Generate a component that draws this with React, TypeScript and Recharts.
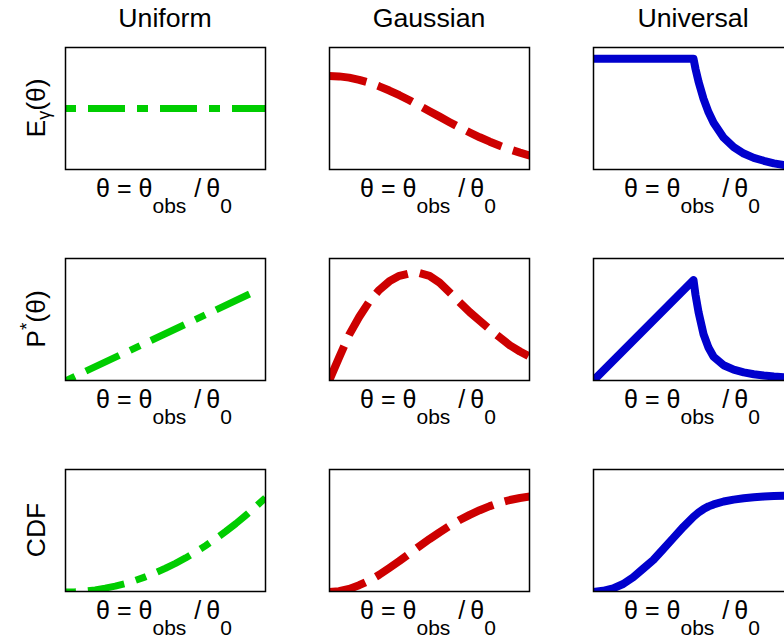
import { LineChart, Line, XAxis, YAxis } from "recharts"

// column titles
const columnTitles = ["Uniform", "Gaussian", "Universal"]

// shared theta grid (theta / theta_0, scaled to the panel width)
const thetaGrid = [0, 0.05, 0.1, 0.15, 0.2, 0.25, 0.3, 0.35, 0.4, 0.45, 0.5, 0.55, 0.6, 0.65, 0.7, 0.75, 0.8, 0.85, 0.9, 0.95, 1]

// Uniform jet
const uniformEx = [0, 1]
const uniformE = [0.5, 0.5]
const uniformPx = [0, 0.94]
const uniformP = [0, 0.724]
const uniformCDF = [0, 0.002, 0.008, 0.017, 0.031, 0.048, 0.069, 0.094, 0.123, 0.156, 0.193, 0.233, 0.277, 0.325, 0.377, 0.433, 0.493, 0.556, 0.624, 0.695, 0.77]

// Gaussian jet
const gaussE = [0.765, 0.761, 0.751, 0.733, 0.71, 0.68, 0.646, 0.608, 0.567, 0.523, 0.478, 0.434, 0.389, 0.346, 0.305, 0.266, 0.23, 0.197, 0.167, 0.141, 0.117]
const gaussP = [0, 0.19, 0.375, 0.52, 0.645, 0.74, 0.81, 0.855, 0.875, 0.877, 0.855, 0.8, 0.72, 0.64, 0.56, 0.49, 0.42, 0.355, 0.29, 0.24, 0.196]
const gaussCDF = [0, 0.006, 0.025, 0.055, 0.093, 0.14, 0.195, 0.252, 0.312, 0.372, 0.43, 0.485, 0.537, 0.585, 0.627, 0.665, 0.698, 0.726, 0.748, 0.764, 0.776]

// Universal jet (denser grid around the core edge)
const universalX = [0, 0.5, 0.51, 0.525, 0.55, 0.575, 0.6, 0.65, 0.7, 0.75, 0.8, 0.85, 0.9, 0.95, 1]
const universalE = [0.904, 0.904, 0.822, 0.719, 0.578, 0.469, 0.384, 0.263, 0.186, 0.134, 0.099, 0.075, 0.054, 0.041, 0.032]
const universalP = [0, 0.82, 0.7, 0.56, 0.38, 0.27, 0.197, 0.128, 0.092, 0.07, 0.055, 0.045, 0.037, 0.031, 0.026]
const universalCdfX = [0, 0.05, 0.1, 0.15, 0.2, 0.25, 0.3, 0.35, 0.4, 0.45, 0.5, 0.525, 0.55, 0.575, 0.6, 0.65, 0.7, 0.75, 0.8, 0.85, 0.9, 0.95, 1]
const universalCDF = [0, 0.01, 0.03, 0.065, 0.12, 0.19, 0.26, 0.35, 0.44, 0.53, 0.612, 0.646, 0.674, 0.696, 0.712, 0.736, 0.751, 0.762, 0.77, 0.776, 0.78, 0.783, 0.785]

const FONT = "'Liberation Sans', Arial, Helvetica, sans-serif"
const PW = 200
const PH = 122
const colLeft = (c: number) => 65 + 264 * c
const rowTop = (r: number) => 47 + 211 * r

const styles = [
  { color: "#00CD00", dash: "11 12 37 12", width: 7 },
  { color: "#CD0000", dash: "38 12", width: 8 },
  { color: "#0000CD", dash: undefined, width: 8 },
]

// rows of panels: [xs, ys] per column
const panels: [number[], number[]][][] = [
  [[uniformEx, uniformE], [thetaGrid, gaussE], [universalX, universalE]],
  [[uniformPx, uniformP], [thetaGrid, gaussP], [universalX, universalP]],
  [[thetaGrid, uniformCDF], [thetaGrid, gaussCDF], [universalCdfX, universalCDF]],
]

function Panel({ xs, ys, col, row }: { xs: number[]; ys: number[]; col: number; row: number }) {
  const data = xs.map((x, i) => ({ x, y: ys[i] }))
  const s = styles[col]
  return (
    <div style={{ position: "absolute", left: colLeft(col), top: rowTop(row) }}>
      <LineChart width={PW + 1} height={PH + 1} data={data} margin={{ top: 0, right: 0, bottom: 0, left: 0 }}>
        <XAxis type="number" dataKey="x" domain={[0, 1]} hide allowDataOverflow />
        <YAxis type="number" domain={[0, 1]} hide allowDataOverflow />
        <Line
          type="linear"
          dataKey="y"
          stroke={s.color}
          strokeWidth={s.width}
          strokeDasharray={s.dash}
          strokeLinecap="butt"
          strokeLinejoin="round"
          dot={false}
          activeDot={false}
          isAnimationActive={false}
        />
      </LineChart>
    </div>
  )
}

function XLabel({ cx, y }: { cx: number; y: number }) {
  return (
    <text x={cx} y={y} textAnchor="middle" fontSize={25} fontFamily={FONT} fill="#000">
      <tspan>θ</tspan>
      <tspan dx={7}>=</tspan>
      <tspan dx={7}>θ</tspan>
      <tspan fontSize={21} dy={16}>obs</tspan>
      <tspan dx={8} dy={-16}>/</tspan>
      <tspan dx={5}>θ</tspan>
      <tspan fontSize={21} dy={16}>0</tspan>
    </text>
  )
}

function YLabel({ row }: { row: number }) {
  const cy = rowTop(row) + PH / 2
  const tr = `translate(45, ${cy}) rotate(-90)`
  if (row === 0)
    return (
      <text transform={tr} textAnchor="middle" fontSize={26.5} fontFamily={FONT} fill="#000">
        E<tspan fontSize={18} dy={5}>γ</tspan>
        <tspan dy={-5}>(θ)</tspan>
      </text>
    )
  if (row === 1)
    return (
      <text transform={tr} textAnchor="middle" fontSize={26.5} fontFamily={FONT} fill="#000">
        P<tspan fontSize={19} dy={-12}>*</tspan>
        <tspan dy={12}>(θ)</tspan>
      </text>
    )
  return (
    <text transform={tr} textAnchor="middle" fontSize={26.5} fontFamily={FONT} fill="#000">
      CDF
    </text>
  )
}

export default function App() {
  return (
    <div style={{ position: "absolute", left: 0, top: 0, width: 784, height: 644, overflow: "hidden", background: "#fff" }}>
      {panels.map((row, r) =>
        row.map(([xs, ys], c) => <Panel key={`${r}-${c}`} xs={xs} ys={ys} col={c} row={r} />)
      )}
      <svg width={784} height={644} style={{ position: "absolute", left: 0, top: 0, pointerEvents: "none" }}>
        {columnTitles.map((t, c) => (
          <text key={t} x={colLeft(c) + PW / 2} y={27} textAnchor="middle" fontSize={26.7} fontFamily={FONT} fill="#000">
            {t}
          </text>
        ))}
        {[0, 1, 2].map((r) => (
          <g key={r}>
            <YLabel row={r} />
            {[0, 1, 2].map((c) => (
              <g key={c}>
                <rect x={colLeft(c) + 0.5} y={rowTop(r) + 0.5} width={PW} height={PH} fill="none" stroke="#000" strokeWidth={1.5} />
                <XLabel cx={colLeft(c) + PW / 2 - 1} y={rowTop(r) + PH + 28} />
              </g>
            ))}
          </g>
        ))}
      </svg>
    </div>
  )
}
